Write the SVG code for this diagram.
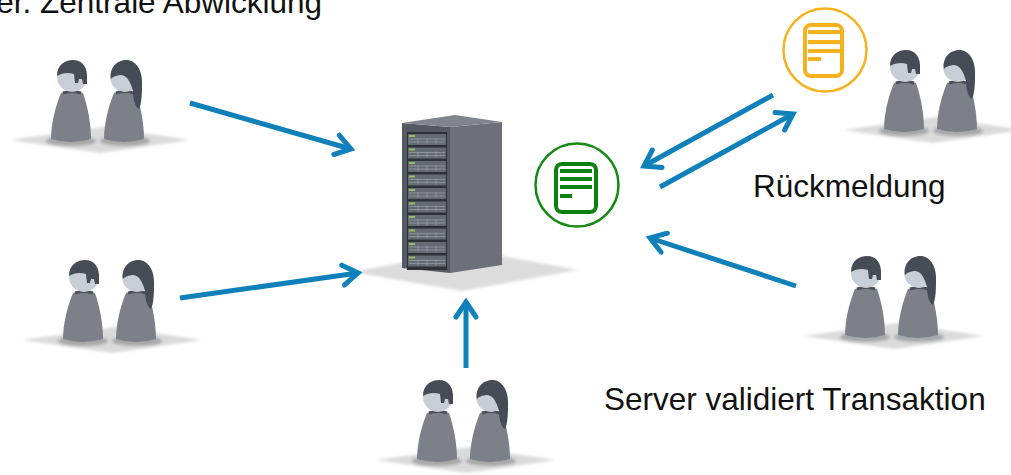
<svg xmlns="http://www.w3.org/2000/svg" xmlns:xlink="http://www.w3.org/1999/xlink" width="1011" height="475" viewBox="0 0 1011 475">
  <style>
    .lbl { font-family: "Liberation Sans", Arial, sans-serif; font-size: 31.5px; fill: #111; }
    .arrow { fill: none; stroke: #0f80ba; stroke-width: 5; stroke-linecap: butt; marker-end: url(#chev); }
    .body { fill: #7c8089; }
    .collar { fill: none; stroke: #4b5059; stroke-width: 3; }
    .head { fill: #c8ced6; }
    .hair { fill: #464c55; }
    .floor { fill: #dadada; filter: url(#soft); }
    .foot { fill: #a6a7a9; filter: url(#soft); }
  </style>
  <defs>
    <filter id="soft" x="-20%" y="-50%" width="140%" height="200%">
      <feGaussianBlur stdDeviation="1.8"/>
    </filter>
    <marker id="chev" markerUnits="userSpaceOnUse" viewBox="0 0 26 26" markerWidth="26" markerHeight="26" refX="20" refY="13" orient="auto">
      <path d="M5,3 L20,13 L5,23" fill="none" stroke="#0f80ba" stroke-width="5" stroke-linecap="round" stroke-linejoin="miter"/>
    </marker>
    <!-- two standing figures on a floor patch; origin = centre of the left head -->
    <g id="pair">
      <polygon class="floor" points="-62,63 31,50 118,63 28,76"/>
      <ellipse class="foot" cx="-1" cy="64" rx="25" ry="5"/>
      <ellipse class="foot" cx="53" cy="64" rx="25" ry="5"/>
      <!-- man -->
      <path class="body" d="M-11,16 Q0,12 11,16 C16,30 19,48 19,62 Q-1,68 -21,62 C-21,48 -17,30 -11,16 Z"/>
      <path class="collar" d="M-9,16 Q0,13 9,16"/>
      <circle class="head" cx="0" cy="0" r="15"/>
      <path class="hair" d="M-15,-1 C-15,-13 -6,-17 1,-17 C10,-17 16,-10 15,2 L15,7 L11,7 L10,2 L7,2 L6,6 L3,6 L2,-3 C-4,-5 -10,-4 -15,-1 Z"/>
      <!-- woman -->
      <path class="body" d="M42,16 Q53,12 64,16 C69,30 72,48 72,62 Q52,68 32,62 C32,48 36,30 42,16 Z"/>
      <path class="collar" d="M44,16 Q53,13 62,16"/>
      <circle class="head" cx="53" cy="0" r="15"/>
      <path class="hair" d="M39,2 C37,-12 48,-18 56,-17 C66,-15 71,-5 70,10 C70,20 69,28 67,32 C63,30 61,22 61,14 C59,6 55,-3 48,-2 C43,-1 40,0 39,2 Z"/>
    </g>
    <!-- one rack unit -->
    <g id="unit">
      <rect x="0" y="0" width="38" height="11" fill="#656b73"/>
      <rect x="1" y="1" width="6" height="2" fill="#8fbf6a"/>
      <path d="M1,5 H37 M1,8 H37 M10,4 V10 M19,4 V10 M28,4 V10" stroke="#959ba3" stroke-width="0.8" fill="none"/>
    </g>
  </defs>

  <rect width="1011" height="475" fill="#ffffff"/>

  <text class="lbl" x="322" y="13" text-anchor="end">er. Zentrale Abwicklung</text>

  <g id="users-top-left"><use xlink:href="#pair" x="72" y="77"/></g>
  <g id="users-mid-left"><use xlink:href="#pair" x="84" y="277"/></g>
  <g id="users-bottom"><use xlink:href="#pair" x="438" y="397"/></g>
  <g id="users-top-right"><use xlink:href="#pair" x="905" y="67"/></g>
  <g id="users-mid-right"><use xlink:href="#pair" x="866" y="273"/></g>

  <g id="server">
    <polygon points="352,272 470,250 578,270 462,291" fill="#dcdcdc" filter="url(#soft)"/>
    <polygon points="402,123 450,127 450,273 402,268" fill="#555a62"/>
    <polygon points="450,127 502,122 502,265 450,273" fill="#6b7079"/>
    <polygon points="402,123 455,115 502,122 450,127" fill="#80858d"/>
    <rect x="407" y="132" width="40" height="138" fill="#2e3238"/>
    <use xlink:href="#unit" x="408" y="134"/>
    <use xlink:href="#unit" x="408" y="147.5"/>
    <use xlink:href="#unit" x="408" y="161"/>
    <use xlink:href="#unit" x="408" y="174.5"/>
    <use xlink:href="#unit" x="408" y="188"/>
    <use xlink:href="#unit" x="408" y="201.5"/>
    <use xlink:href="#unit" x="408" y="215"/>
    <use xlink:href="#unit" x="408" y="228.5"/>
    <use xlink:href="#unit" x="408" y="242"/>
    <use xlink:href="#unit" x="408" y="255.5"/>
  </g>

  <g id="tx-pending">
    <circle cx="577" cy="185" r="41.5" fill="#ffffff" stroke="#138a13" stroke-width="2.5"/>
    <rect x="556" y="164" width="40" height="48" rx="6" fill="#ffffff" stroke="#0f800f" stroke-width="4"/>
    <path d="M560,171 H592 M560,179 H592 M560,187 H592 M560,196 H572" stroke="#0f800f" stroke-width="4" fill="none"/>
  </g>

  <g id="tx-confirmed">
    <circle cx="825" cy="50" r="41.5" fill="#ffffff" stroke="#f5b21c" stroke-width="2.5"/>
    <rect x="805" y="25" width="37" height="51" rx="6" fill="#ffffff" stroke="#f5b21c" stroke-width="4"/>
    <path d="M808,32 H840 M808,42 H840 M808,51 H840 M808,59 H821" stroke="#f5b21c" stroke-width="4" fill="none"/>
  </g>

  <g id="connectors">
    <line class="arrow" x1="190" y1="103" x2="351" y2="149"/>
    <line class="arrow" x1="180" y1="298" x2="358" y2="273"/>
    <line class="arrow" x1="466" y1="368" x2="466" y2="302"/>
    <line class="arrow" x1="796" y1="286" x2="650" y2="238"/>
    <line class="arrow" x1="773" y1="95" x2="644" y2="166"/>
    <line class="arrow" x1="660" y1="187" x2="793" y2="114"/>
  </g>

  <g id="labels">
    <text class="lbl" x="753" y="197">Rückmeldung</text>
    <text class="lbl" x="604" y="410">Server validiert Transaktion</text>
  </g>
</svg>
